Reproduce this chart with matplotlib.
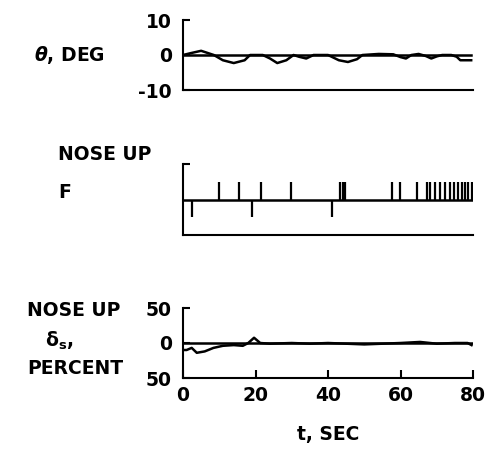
import matplotlib
matplotlib.use("Agg")
import matplotlib.pyplot as plt

plt.rcParams['font.family'] = ['DejaVu Sans']
plt.rcParams['mathtext.fontset'] = 'dejavusans'

############### data ################
# pitch attitude, deg
theta_t = [0, 2, 5, 8.5, 11, 14, 17, 18.5, 22, 24, 26, 28.5, 30.5, 32, 34, 36,
           40, 43, 45.5, 48, 49.5, 54, 58, 60, 61.5, 63, 65, 67, 68.5, 70, 71.5,
           74, 75.5, 76.5, 79.5]
theta = [0, 0.5, 1.2, 0, -1.5, -2.3, -1.5, 0, 0, -1, -2.3, -1.5, 0, -0.5, -1, 0,
         0, -1.5, -2, -1.2, 0, 0.3, 0.2, -0.6, -1, 0, 0.3, -0.3, -1, -0.4, 0,
         0, -0.5, -1.5, -1.5]

# force pulses (nose up / nose down)
up_t = [10.0, 15.5, 21.6, 29.9, 43.3, 44.1, 44.7, 57.6, 59.9, 64.6, 67.2, 68.1,
        69.5, 70.9, 72.3, 73.7, 74.8, 75.9, 76.9, 77.8, 78.7, 79.6]
down_t = [2.4, 19.0, 41.0]

# stick deflection, percent
ds_t = [0, 1, 2.4, 3.8, 6, 8.4, 11, 14, 16.5, 18, 19.6, 21.3, 24, 30, 35, 40,
        45, 50, 55, 60, 65.4, 70, 75, 78.5, 79.6]
ds = [-10, -10, -7, -14, -12, -7, -4, -3, -4, 0, 7.5, 0, -1, 0, -1, 0,
      -1, -2, -1, 0, 1.5, -1, 0, 0, -3]

x_ticks = [0, 20, 40, 60, 80]

############### figure ################
fig = plt.figure(figsize=(4.93, 4.53), dpi=100)
L, W = 183 / 493, 290 / 493
ax1 = fig.add_axes([L, 1 - 90 / 453, W, 70 / 453])
ax2 = fig.add_axes([L, 1 - 235 / 453, W, 71 / 453])
ax3 = fig.add_axes([L, 1 - 378 / 453, W, 70 / 453])

fs = 13.5
lw = 1.5
for ax in (ax1, ax2, ax3):
    ax.set_xlim(0, 80)
    for s in ('top', 'right'):
        ax.spines[s].set_visible(False)
    for s in ('left', 'bottom'):
        ax.spines[s].set_linewidth(lw)
    ax.tick_params(direction='in', length=5, width=lw, labelsize=fs, pad=8)
    ax.set_xticks([])

# theta
ax1.set_ylim(-10, 10)
ax1.axhline(0, color='black', lw=1.8, xmax=79.5 / 80)
ax1.plot(theta_t, theta, color='black', lw=1.8)
ax1.set_yticks([-10, 0, 10])
ax1.set_yticklabels(['-10', '0', '10'], fontweight='bold')
fig.text(105 / 493, 1 - 55 / 453, r'$\mathbfit{\theta}$, DEG', ha='right', va='center',
         fontsize=fs, fontweight='bold')

# F
ax2.set_ylim(-1, 1)
ax2.axhline(0, color='black', lw=1.8)
ax2.vlines(up_t, 0, 0.5, color='black', lw=1.6)
ax2.vlines(down_t, -0.5, 0, color='black', lw=1.6)
ax2.set_yticks([1])
ax2.set_yticklabels([''])
fig.text(58 / 493, 1 - 154 / 453, 'NOSE UP', ha='left', va='center',
         fontsize=fs, fontweight='bold')
fig.text(58 / 493, 1 - 193 / 453, 'F', ha='left', va='center',
         fontsize=fs, fontweight='bold')

# delta_s
ax3.set_ylim(-50, 50)
ax3.axhline(0, color='black', lw=1.8)
ax3.plot(ds_t, ds, color='black', lw=1.8)
ax3.set_yticks([-50, 0, 50])
ax3.set_yticklabels(['50', '0', '50'], fontweight='bold')
ax3.set_xticks(x_ticks)
ax3.set_xticklabels([str(v) for v in x_ticks], fontweight='bold')
ax3.tick_params(axis='x', length=6, pad=6)
ax3.set_xlabel('t, SEC', fontsize=fs, fontweight='bold', labelpad=14)
fig.text(27 / 493, 1 - 310 / 453, 'NOSE UP', ha='left', va='center',
         fontsize=fs, fontweight='bold')
fig.text(45 / 493, 1 - 341 / 453, r'$\mathbf{\delta_s}$,', ha='left', va='center',
         fontsize=fs, fontweight='bold')
fig.text(27 / 493, 1 - 368 / 453, 'PERCENT', ha='left', va='center',
         fontsize=fs, fontweight='bold')

fig.savefig('out.png', dpi=100, facecolor='white')
